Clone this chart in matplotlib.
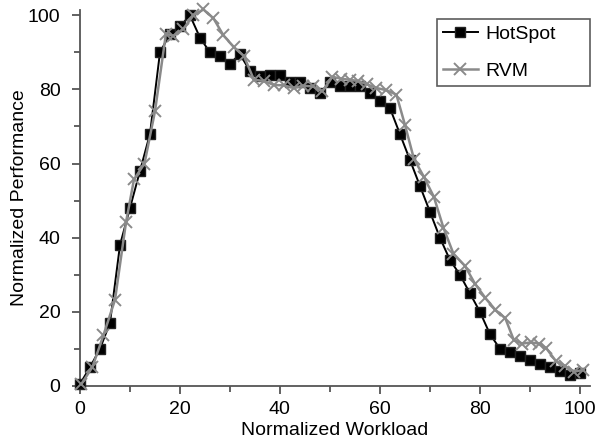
import matplotlib
matplotlib.use('Agg')
import matplotlib.pyplot as plt
from matplotlib.ticker import MultipleLocator

plt.rcParams['font.family'] = ['Liberation Sans', 'DejaVu Sans']

# HotSpot: black squares, every 2 units of workload
hot_x = [0, 2, 4, 6, 8, 10, 12, 14, 16, 18, 20, 22, 24, 26, 28, 30, 32, 34, 36, 38,
         40, 42, 44, 46, 48, 50, 52, 54, 56, 58, 60, 62, 64, 66, 68, 70, 72, 74, 76, 78,
         80, 82, 84, 86, 88, 90, 92, 94, 96, 98, 100]
hot_y = [0.5, 5, 10, 17, 38, 48, 58, 68, 90, 95, 97, 100, 94, 90, 89, 87, 89.5, 85, 83.5, 84,
         84, 82, 82, 80.5, 79, 82, 81, 81, 81, 79, 77, 75, 68, 61, 54, 47, 40, 34, 30, 25,
         20, 14, 10, 9, 8, 7, 6, 5, 4, 3, 3.5]

# RVM: grey crosses
rvm_x = [0.3, 2.5, 4.7, 7.0, 9.2, 10.8, 12.9, 15.0, 17.2, 18.7,
         20.7, 22.7, 24.7, 26.7, 28.7, 30.8, 32.8, 34.8, 36.8, 38.8,
         40.8, 42.8, 44.6, 46.6, 48.5, 50.5, 52.3, 54.0, 55.6, 57.4,
         59.3, 61.3, 63.3, 65.0, 66.8, 68.8, 70.8, 72.7, 74.7, 77.0,
         79.0, 81.1, 83.1, 85.1, 86.8, 88.5, 90.2, 91.8, 93.3, 95.2,
         97.1, 98.9, 100.7]
rvm_y = [0.5, 5.1, 13.7, 23.2, 44.1, 55.7, 60, 74.1, 95.1, 94.4,
         96.4, 100, 101.6, 99.2, 94.6, 91.4, 89, 82.6, 82.3, 81.2,
         81.1, 80.4, 81, 80.8, 79.5, 83.4, 82.9, 82.6, 82.3, 81.4,
         80.4, 79.8, 78.6, 70.5, 61.3, 56.4, 51, 42.7, 35.7, 32.4,
         27.6, 23.7, 20.5, 18.2, 12.3, 11.4, 11.7, 11.4, 10.1, 6.7,
         5.3, 3.8, 4.3]

fig = plt.figure(figsize=(5.97, 4.46), dpi=100)
ax = fig.add_axes([0.134, 0.135, 0.854, 0.843])

ax.plot(hot_x, hot_y, color='black', lw=1.4, marker='s', ms=6.5,
        mec='#222222', mfc='black', label='HotSpot', clip_on=False, zorder=3)
ax.plot(rvm_x, rvm_y, color='#8a8a8a', lw=1.8, marker='x', ms=9, mew=1.4,
        label='RVM', clip_on=False, zorder=4)

ax.set_xlim(0, 102)
ax.set_ylim(0, 101.5)
ax.xaxis.set_major_locator(MultipleLocator(20))
ax.xaxis.set_minor_locator(MultipleLocator(10))
ax.yaxis.set_major_locator(MultipleLocator(20))
ax.yaxis.set_minor_locator(MultipleLocator(10))

for s in ['top', 'right']:
    ax.spines[s].set_visible(False)
for s in ['left', 'bottom']:
    ax.spines[s].set_color('#555555')
    ax.spines[s].set_linewidth(1.3)

ax.tick_params(which='major', length=6, width=1.3, color='#555555', labelsize=14)
ax.tick_params(which='minor', length=4, width=1.3, color='#555555')
ax.tick_params(axis='x', which='major', pad=5)
ax.tick_params(axis='y', which='major', pad=8)

ax.set_xlabel('Normalized Workload', fontsize=14, labelpad=3)
ax.set_ylabel('Normalized Performance', fontsize=14, labelpad=0)

leg = ax.legend(loc='upper left', bbox_to_anchor=(0.70, 0.795, 0.30, 0.18), mode='expand',
                fontsize=14, frameon=True, fancybox=False, handlelength=1.8,
                handletextpad=0.4, labelspacing=1.0, borderpad=0.3, borderaxespad=0)
leg.get_frame().set_edgecolor('#333333')
leg.get_frame().set_linewidth(1.2)

fig.savefig('out.png', dpi=100)
